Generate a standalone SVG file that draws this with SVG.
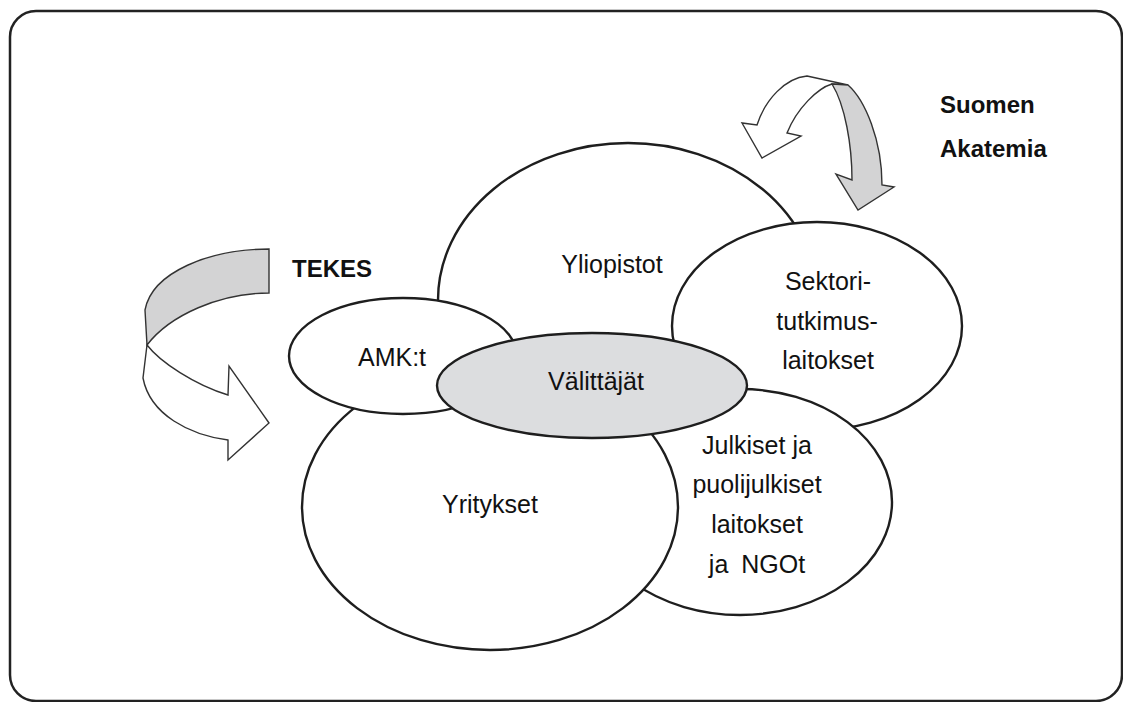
<svg xmlns="http://www.w3.org/2000/svg" width="1123" height="702" viewBox="0 0 1123 702">
<style>
.frame{fill:#fff;stroke:#222;stroke-width:2.5}
.ell{fill:#fff;stroke:#1e1e1e;stroke-width:2.4}
.mid{fill:#dcdddf}
.lbl{font-family:"Liberation Sans",Arial,Helvetica,sans-serif;font-size:25px;fill:#111;text-anchor:middle}
.bold{font-family:"Liberation Sans",Arial,Helvetica,sans-serif;font-size:24px;font-weight:bold;fill:#111}
.arr{stroke:#333;stroke-width:1.4;stroke-linejoin:miter}
.g1{fill:#d3d3d4}
.w{fill:#fff}
</style>
<rect class="frame" x="10" y="11" width="1112" height="690" rx="26"/>
<g id="connectors">
<g id="tekes-arrow">
<path class="arr g1" d="M269,249 C210,249 152,272 145,310 L147,345 C170,315 220,293 269,293 Z"/>
<path class="arr w" d="M147,345 C160,362 195,385 228,395 L229,366 L269,423 L228,460 L228,440 C190,435 150,415 143,378 Z"/>
</g>
<g id="akatemia-arrow">
<path class="arr w" d="M807,76 L848,85 L832,84 C818,88 797,108 787,133 L801,136 L762,158 L742,123 L757,125 C765,100 785,78 807,76 Z"/>
<path class="arr g1" d="M832,84 L848,85 C865,100 882,140 882,185 L894,187 L858,210 L836,174 L852,180 C852,145 845,105 832,84 Z"/>
</g>
</g>
<g id="yliopistot">
<ellipse class="ell" cx="628" cy="300" rx="190" ry="157"/>
<text class="lbl" x="612" y="273">Yliopistot</text>
</g>
<g id="sektori">
<ellipse class="ell" cx="817" cy="326" rx="145" ry="104"/>
<text class="lbl" x="828" y="290">Sektori-</text>
<text class="lbl" x="827" y="330">tutkimus-</text>
<text class="lbl" x="828" y="369">laitokset</text>
</g>
<g id="julkiset">
<ellipse class="ell" cx="740" cy="502" rx="152" ry="113"/>
<text class="lbl" x="757" y="454">Julkiset ja</text>
<text class="lbl" x="757" y="493">puolijulkiset</text>
<text class="lbl" x="757" y="533">laitokset</text>
<text class="lbl" x="757" y="573" word-spacing="6">ja NGOt</text>
</g>
<g id="yritykset">
<ellipse class="ell" cx="490" cy="507" rx="188" ry="143"/>
<text class="lbl" x="490" y="513">Yritykset</text>
</g>
<g id="amk">
<ellipse class="ell" cx="403" cy="356" rx="114" ry="58"/>
<text class="lbl" x="392" y="366">AMK:t</text>
</g>
<g id="valittajat">
<ellipse class="ell mid" cx="592" cy="385.5" rx="155" ry="52.5"/>
<text class="lbl" x="596" y="390">Välittäjät</text>
</g>
<g id="tekes">
<text class="bold" x="292" y="277">TEKES</text>
</g>
<g id="suomen-akatemia">
<text class="bold" x="940" y="113">Suomen</text>
<text class="bold" x="940" y="157">Akatemia</text>
</g>
</svg>
